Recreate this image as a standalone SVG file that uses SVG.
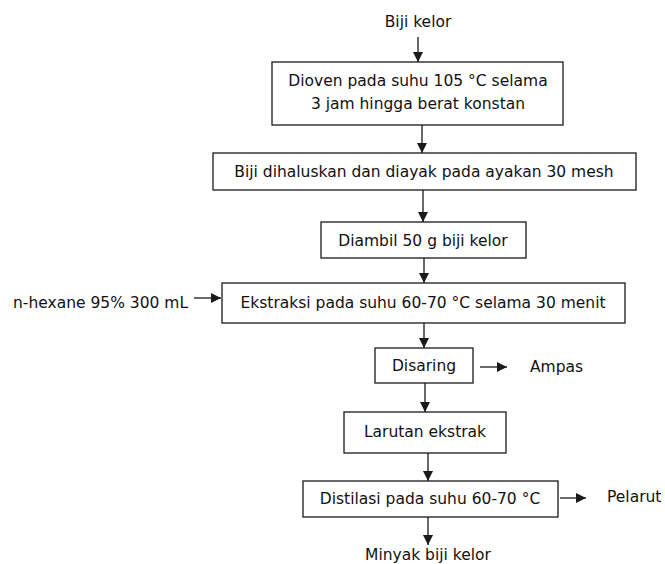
<svg xmlns="http://www.w3.org/2000/svg" width="665" height="564" viewBox="0 0 665 564">
<defs>
<marker id="ah" viewBox="0 0 10 10" refX="10" refY="5" markerWidth="10" markerHeight="10" markerUnits="userSpaceOnUse" orient="auto">
<path d="M0,0 L10,5 L0,10 z" fill="#1a1a1a"/>
</marker>
</defs>
<style>
text{font-family:"DejaVu Sans",Verdana,sans-serif;font-size:15.5px;fill:#111}
.c{text-anchor:middle}
rect{fill:#fff;stroke:#1a1a1a;stroke-width:1.3}
#connectors line{stroke:#1a1a1a;stroke-width:1.3;marker-end:url(#ah)}
</style>
<rect x="0" y="0" width="665" height="564" style="stroke:none;fill:#fff"/>
<g id="n0"><text class="c" x="418" y="27">Biji kelor</text></g>
<g id="n1"><rect x="272" y="62" width="291" height="63"/><text class="c" x="418" y="86">Dioven pada suhu 105 °C selama</text><text class="c" x="418" y="109">3 jam hingga berat konstan</text></g>
<g id="n2"><rect x="213" y="153" width="423" height="37"/><text class="c" x="424" y="177">Biji dihaluskan dan diayak pada ayakan 30 mesh</text></g>
<g id="n3"><rect x="321" y="222" width="205" height="36"/><text class="c" x="423" y="246">Diambil 50 g biji kelor</text></g>
<g id="n4"><rect x="222" y="283" width="403" height="40"/><text class="c" x="423" y="308">Ekstraksi pada suhu 60-70 °C selama 30 menit</text></g>
<g id="n5"><text x="13" y="308">n-hexane 95% 300 mL</text></g>
<g id="n6"><rect x="375" y="348" width="98" height="35"/><text class="c" x="424" y="371">Disaring</text></g>
<g id="n7"><text x="530" y="372">Ampas</text></g>
<g id="n8"><rect x="344" y="412" width="162" height="41"/><text class="c" x="425" y="437">Larutan ekstrak</text></g>
<g id="n9"><rect x="303" y="481" width="255" height="36"/><text class="c" x="430" y="504">Distilasi pada suhu 60-70 °C</text></g>
<g id="n10"><text x="607" y="502">Pelarut</text></g>
<g id="n11"><text class="c" x="428" y="560">Minyak biji kelor</text></g>
<g id="connectors">
<line x1="418" y1="37" x2="418" y2="62"/>
<line x1="422" y1="125" x2="422" y2="153"/>
<line x1="423" y1="190" x2="423" y2="222"/>
<line x1="424" y1="258" x2="424" y2="283"/>
<line x1="194" y1="298" x2="221" y2="298"/>
<line x1="424" y1="323" x2="424" y2="348"/>
<line x1="480" y1="367" x2="507" y2="367"/>
<line x1="425" y1="383" x2="425" y2="412"/>
<line x1="428" y1="453" x2="428" y2="481"/>
<line x1="560" y1="498" x2="586" y2="498"/>
<line x1="428" y1="517" x2="428" y2="545"/>
</g>
</svg>
